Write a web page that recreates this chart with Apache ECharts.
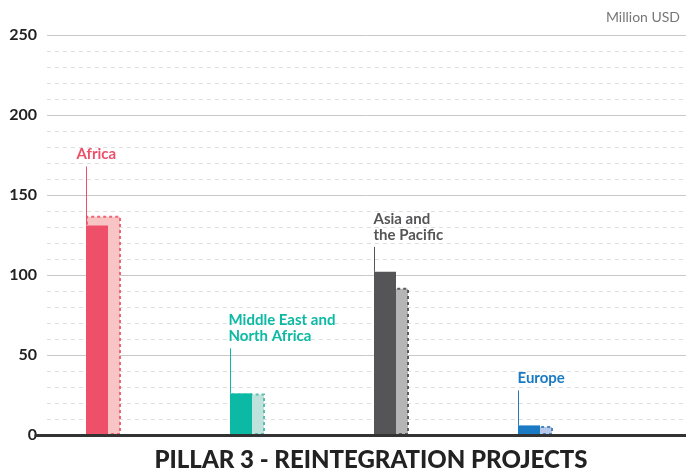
<!DOCTYPE html>
<html>
<head>
<meta charset="utf-8">
<script src="https://cdn.jsdelivr.net/npm/echarts@6/dist/echarts.min.js"></script>
<style>
  html, body { margin: 0; padding: 0; background: #fff; }
  #chart { width: 686px; height: 474px; }
</style>
</head>
<body>
<div id="chart"></div>
<script>
// region names as shown on the callouts
const regions = ['Africa', 'Middle East and\nNorth Africa', 'Asia and\nthe Pacific', 'Europe']
// solid bars and the lighter dashed bars behind them (Million USD)
const solidValues = [131, 26, 102, 6]
const lightValues = [137, 26, 92, 5.7]
const yTicks = [0, 50, 100, 150, 200, 250]

// styles per region
const solidColors = ['#ef5069', '#0bb9a4', '#555557', '#1a7bc4']
const lightColors = ['#f9c5c4', '#bfe3dc', '#b5b5b5', '#b8c8e8']
const edgeColors = ['#ee6577', '#5cbfae', '#5c5c5c', '#4f84c4']
const calloutLift = [59, 45, 25, 35]
const calloutDx = [-10, -2, -1, -1]

const FONT = 'Lato'
const chart = echarts.init(document.getElementById('chart'))

const option = {
	animation: false,
	title: {
		text: 'PILLAR 3 - REINTEGRATION PROJECTS',
		left: 366,
		top: 443,
		textAlign: 'center',
		textStyle: { fontFamily: FONT, fontSize: 24, fontWeight: 900, color: '#222' }
	},
	graphic: [{
		type: 'text',
		right: 6,
		top: 10,
		style: { text: 'Million USD', font: '14px ' + FONT, fill: '#777' }
	}],
	grid: [
		{ left: 47, right: 0, top: 35, bottom: 39 },
		{ left: 25, right: 85, top: 35, bottom: 39 },
		{ left: 36, right: 0, top: 35, bottom: 39 }
	],
	xAxis: [
		{ gridIndex: 0, type: 'value', show: false },
		{ gridIndex: 1, type: 'category', data: regions, show: false },
		{
			gridIndex: 2, type: 'category', data: [''], z: 5,
			axisLine: { lineStyle: { color: '#333', width: 3 } },
			axisTick: { show: false }, axisLabel: { show: false }
		}
	],
	yAxis: [
		{
			gridIndex: 0, type: 'value', min: yTicks[0], max: yTicks[yTicks.length - 1], interval: 50,
			axisLine: { show: false }, axisTick: { show: false },
			axisLabel: { margin: 10, fontFamily: FONT, fontSize: 16, fontWeight: 'bold', color: '#222' },
			splitLine: { lineStyle: { color: '#c8c8c8', width: 1 } },
			minorTick: { show: false, splitNumber: 5 },
			minorSplitLine: { show: true, lineStyle: { color: '#dedede', type: [4, 4] } }
		},
		{ gridIndex: 1, type: 'value', min: 0, max: 250, show: false },
		{ gridIndex: 2, type: 'value', min: 0, max: 250, show: false }
	],
	series: [
		{
			type: 'bar',
			xAxisIndex: 1, yAxisIndex: 1,
			barWidth: 35,
			barGap: '-100%',
			data: lightValues.map((v, i) => ({
				value: v,
				itemStyle: { color: lightColors[i], borderColor: edgeColors[i], borderWidth: 2, borderType: [3, 3] }
			}))
		},
		{
			type: 'bar',
			xAxisIndex: 1, yAxisIndex: 1,
			barWidth: 22,
			data: solidValues.map((v, i) => ({ value: v, itemStyle: { color: solidColors[i] } }))
		},
		{
			type: 'custom',
			xAxisIndex: 1, yAxisIndex: 1,
			clip: false,
			z: 4,
			data: solidValues.map((v, i) => [i, v]),
			renderItem: function (params, api) {
				const i = params.dataIndex
				const p = api.coord([api.value(0), api.value(1)])
				const x = Math.round(p[0] - 11) + 0.5
				const yTop = p[1] - calloutLift[i]
				return {
					type: 'group',
					children: [
						{
							type: 'line',
							shape: { x1: x, y1: p[1], x2: x, y2: yTop },
							style: { stroke: solidColors[i], lineWidth: 1 }
						},
						{
							type: 'text',
							x: x + calloutDx[i],
							y: yTop - 4,
							style: {
								text: regions[i],
								fill: solidColors[i],
								font: 'bold 15px ' + FONT,
								lineHeight: 16,
								align: 'left',
								verticalAlign: 'bottom'
							}
						}
					]
				}
			}
		}
	]
}

chart.setOption(option)
window.onresize = function () {
	chart.resize()
}
</script>
</body>
</html>
